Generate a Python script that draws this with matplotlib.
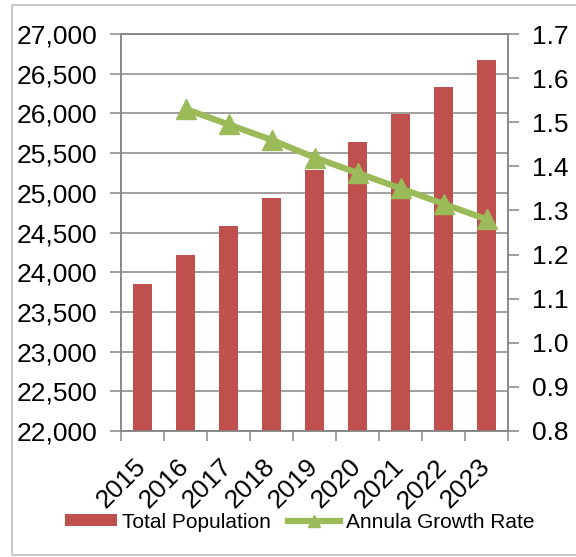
import matplotlib.pyplot as plt
import numpy as np
from matplotlib.patches import Rectangle
from matplotlib.ticker import FuncFormatter

plt.rcParams['font.family'] = ['Liberation Sans', 'DejaVu Sans']

years = ['2015', '2016', '2017', '2018', '2019', '2020', '2021', '2022', '2023']
population = [23850, 24215, 24580, 24940, 25290, 25645, 25995, 26330, 26670]
rate_years = years[1:]
growth_rate = [1.53, 1.495, 1.46, 1.42, 1.385, 1.35, 1.315, 1.28]

bar_color = '#C0504D'
line_color = '#9BBB59'
gray = '#868686'

fig = plt.figure(figsize=(5.76, 5.57), dpi=100)
ax = fig.add_axes([121 / 576, 1 - 431 / 557, 387 / 576, 397 / 557])

# light frame round the chart
fig.patches.append(Rectangle((12 / 576, 1 - 555 / 557), 1.0, 550 / 557,
                             transform=fig.transFigure, fill=False,
                             edgecolor='#BFBFBF', linewidth=1.2))

x = np.arange(len(years))
ax.bar(x, population, width=0.42, color=bar_color, zorder=3, label='Total Population')
ax.set_ylim(22000, 27000)
ax.set_yticks(np.arange(22000, 27001, 500))
ax.yaxis.set_major_formatter(FuncFormatter(lambda v, p: f'{int(v):,}'))
ax.set_xlim(-0.5, len(years) - 0.5)
ax.grid(axis='y', color=gray, linewidth=1.1)
ax.set_axisbelow(True)

# tick marks between categories, labels at the centres
ax.set_xticks(np.arange(-0.5, len(years), 1.0))
ax.set_xticklabels([])
ax.set_xticks(x, minor=True)
ax.set_xticklabels(years, minor=True, rotation=45, ha='right', va='center',
                   rotation_mode='anchor', fontsize=19)
ax.tick_params(axis='x', which='major', length=7, width=1.1, color=gray)
ax.tick_params(axis='x', which='minor', length=0, pad=23)
ax.tick_params(axis='y', length=8, width=1.1, color=gray, pad=9, labelsize=19)

ax2 = ax.twinx()
ax2.plot(x[1:], growth_rate, color=line_color, linewidth=4.5, marker='^',
         markersize=15, markerfacecolor=line_color, markeredgecolor=line_color,
         zorder=4, label='Annula Growth Rate')
ax2.set_ylim(0.8, 1.7)
ax2.set_yticks(np.arange(0.8, 1.71, 0.1))
ax2.yaxis.set_major_formatter(FuncFormatter(lambda v, p: f'{v:.1f}'))
ax2.tick_params(axis='y', length=8, width=1.1, color=gray, pad=9, labelsize=19)

for a in (ax, ax2):
    for s in a.spines.values():
        s.set_color(gray)
        s.set_linewidth(1.1)

h1, l1 = ax.get_legend_handles_labels()
h2, l2 = ax2.get_legend_handles_labels()
fig.legend(h1 + h2, l1 + l2, loc='center', bbox_to_anchor=(0.52, 1 - 522 / 557),
           ncol=2, frameon=False, fontsize=15, handlelength=2.5, handleheight=0.55,
           handletextpad=0.27, columnspacing=0.8, markerscale=0.55)

plt.savefig('out.png', dpi=100)
